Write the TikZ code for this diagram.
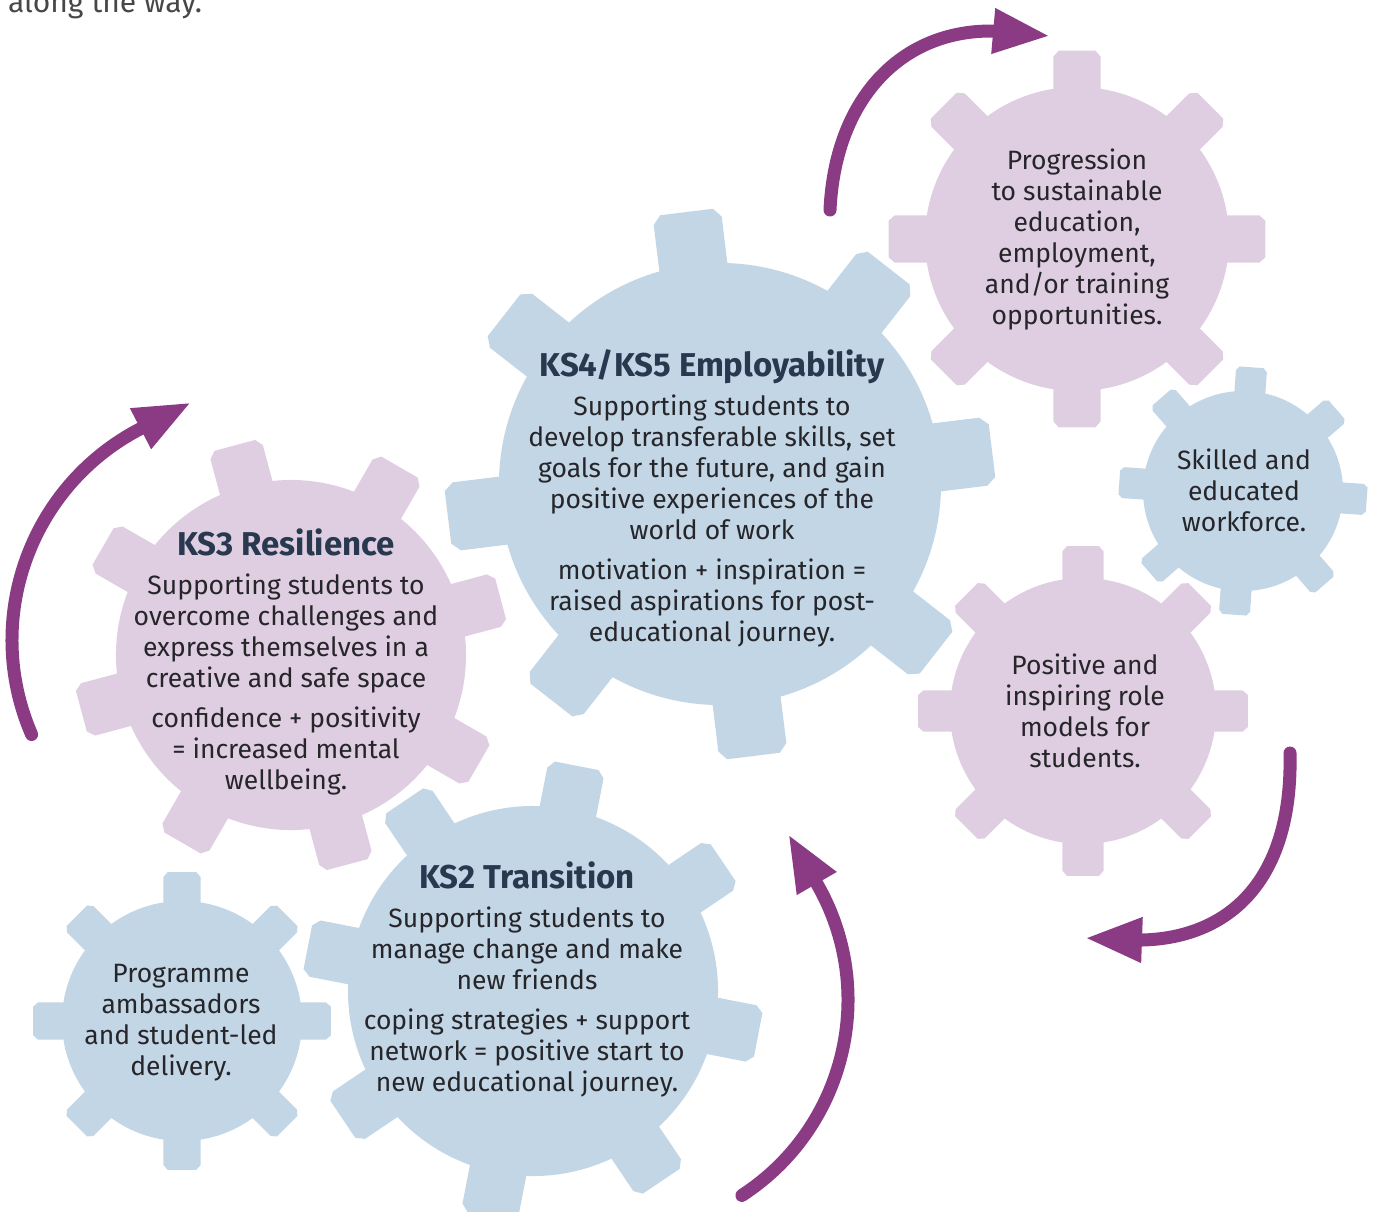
\documentclass[tikz,border=0pt]{standalone}
\usepackage{fontspec}
\setmainfont{Fira Sans}
\usetikzlibrary{arrows.meta}

\definecolor{gearblue}{RGB}{195,214,230}
\definecolor{gearlilac}{RGB}{223,206,225}
\definecolor{arrowpurple}{RGB}{138,59,131}
\definecolor{textdark}{RGB}{38,38,42}
\definecolor{headnavy}{RGB}{40,56,78}

% heading line inside a gear
\newcommand{\gearhead}[1]{{\color{headnavy}\fontsize{33}{31}\selectfont\bfseries #1}}

\begin{document}
\begin{tikzpicture}[x=1pt, y=-1pt, line join=round]

% ---------- helpers ----------
% gear: (x,y), rotation, body radius, fill
\newcommand{\drawgear}[5]{%
  \begin{scope}[shift={(#1,#2)},rotate=#3,scale=#4]
    \fill[#5] (0,0) circle (1);
    \foreach \a in {0,45,...,315}{%
      \fill[#5,rotate=\a] (-0.155,0.9) -- (-0.155,1.2) -- (-0.12,1.24) -- (0.12,1.24) -- (0.155,1.2) -- (0.155,0.9) -- cycle;
    }
  \end{scope}%
}
\tikzset{
  geartext/.style={align=center, text=textdark, font=\fontsize{26.5}{31}\selectfont},
  looparrow/.style={arrowpurple, line width=13pt, line cap=round, -{Triangle[length=57pt,width=42pt]}},
}

\fill[white] (0,0) rectangle (1375,1211);
\useasboundingbox (0,0) rectangle (1375,1211);

% text cut off by the top edge
\node[anchor=base west, text=textdark!85, font=\fontsize{30}{31}\selectfont, inner sep=0pt] (intro) at (8,12) {along the way.};

% ---------- gears ----------
\drawgear{720}{484}{7}{221}{gearblue}
\drawgear{291}{655}{15}{175}{gearlilac}
\drawgear{533}{991}{-11}{185}{gearblue}
\drawgear{1077}{239}{0}{152}{gearlilac}
\drawgear{1243}{491}{-4}{100}{gearblue}
\drawgear{1083}{711}{0}{133}{gearlilac}
\drawgear{182}{1021}{0}{120}{gearblue}

% ---------- texts ----------
\node[geartext] (ks4) at (712,498) {\gearhead{KS4/KS5 Employability}\\[8pt]
  Supporting students to\\ develop transferable skills, set\\ goals for the future, and gain\\
  positive experiences of the\\ world of work\\[9pt]
  motivation + inspiration =\\ raised aspirations for post-\\ educational journey.};
\node[geartext] (ks3) at (286,662) {\gearhead{KS3 Resilience}\\[8pt]
  Supporting students to\\ overcome challenges and\\ express themselves in a\\
  creative and safe space\\[9pt]
  confidence + positivity\\ = increased mental\\ wellbeing.};
\node[geartext] (ks2) at (527,979) {\gearhead{KS2 Transition}\\[8pt]
  Supporting students to\\ manage change and make\\ new friends\\[9pt]
  coping strategies + support\\ network = positive start to\\ new educational journey.};
\node[geartext] (progression) at (1077,239) {Progression\\ to sustainable\\ education,\\ employment,\\ and/or training\\ opportunities.};
\node[geartext] (skilled) at (1244,490) {Skilled and\\ educated\\ workforce.};
\node[geartext] (rolemodels) at (1085,711) {Positive and\\ inspiring role\\ models for\\ students.};
\node[geartext] (ambassadors) at (181,1023) {Programme\\ ambassadors\\ and student-led\\ delivery.};

% ---------- arrows ----------
\draw[looparrow] (830,210) .. controls (835,100) and (900,30) .. (993,31) -- (1050,36);
\draw[looparrow] (31.6,734.5) arc[start angle=156.6, end angle=242.6, radius=238] -- ++(332.6:57);
\draw[looparrow] (741.9,1195.4) arc[start angle=57, end angle=-30, radius=233] -- ++(-120:57);
\draw[looparrow] (1290,753) .. controls (1293,885) and (1225,938) .. (1142,940) -- (1085,938);

\end{tikzpicture}
\end{document}
